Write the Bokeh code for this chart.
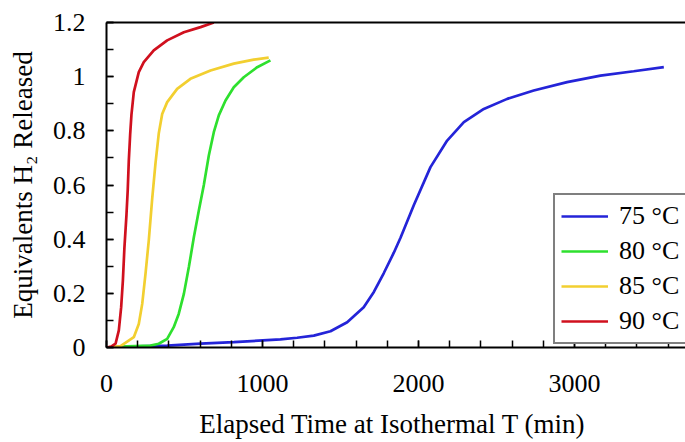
from bokeh.plotting import figure
from bokeh.models import Range1d, FixedTicker, LinearAxis, Legend, LegendItem
from bokeh.embed import file_html
from bokeh.resources import INLINE

# ---------------- data ----------------
t75 = [0, 150, 389, 603, 816, 1115, 1222, 1329, 1436, 1543, 1649, 1714, 1778, 1842,
       1885, 1970, 2077, 2184, 2291, 2419, 2569, 2739, 2953, 3167, 3380, 3573]
v75 = [0, 0.003, 0.007, 0.014, 0.02, 0.03, 0.036, 0.044, 0.06, 0.093, 0.149, 0.205, 0.275, 0.35,
       0.405, 0.525, 0.666, 0.764, 0.832, 0.881, 0.918, 0.949, 0.98, 1.004, 1.02, 1.035]

t80 = [0, 133, 282, 335, 389, 431, 463, 496, 528, 560, 592, 624, 656, 688, 720, 763, 816, 880, 966, 1051]
v80 = [0, 0.004, 0.007, 0.014, 0.032, 0.075, 0.124, 0.198, 0.297, 0.407, 0.506, 0.6, 0.709, 0.795,
       0.857, 0.912, 0.961, 0.998, 1.035, 1.06]

t85 = [0, 90, 175, 207, 229, 250, 271, 293, 314, 335, 357, 389, 453, 538, 667, 816, 944, 1040]
v85 = [0, 0.005, 0.038, 0.087, 0.161, 0.272, 0.395, 0.55, 0.68, 0.79, 0.862, 0.906, 0.955, 0.992,
       1.023, 1.048, 1.063, 1.07]

t90 = [0, 30, 58, 79, 94, 105, 115, 128, 136, 143, 152, 160, 175, 207, 239, 303, 389, 496, 603, 688]
v90 = [0, 0.003, 0.014, 0.063, 0.149, 0.247, 0.37, 0.49, 0.58, 0.69, 0.79, 0.86, 0.943, 1.017,
       1.054, 1.097, 1.134, 1.164, 1.183, 1.2]

series_labels = ["75 °C", "80 °C", "85 °C", "90 °C"]
series_colors = ["#2424d8", "#2ee02e", "#f2cf30", "#d0101e"]

x_ticks = [0, 1000, 2000, 3000]
x_tick_labels = ["0", "1000", "2000", "3000"]
x_minor = [0, 200, 400, 600, 800, 1000, 1200, 1400, 1600, 1800, 2000, 2200, 2400, 2600,
           2800, 3000, 3200, 3400, 3600]
y_ticks = [0, 0.2, 0.4, 0.6, 0.8, 1, 1.2]
y_tick_labels = ["0", "0.2", "0.4", "0.6", "0.8", "1", "1.2"]
y_minor = [0, 0.1, 0.2, 0.3, 0.4, 0.5, 0.6, 0.7, 0.8, 0.9, 1, 1.1, 1.2]

x_title = "Elapsed Time at Isothermal T  (min)"
y_title = "Equivalents H\u2082 Released"

FONT = "Liberation Serif"

# ---------------- figure ----------------
p = figure(width=685, height=442, output_backend="svg", toolbar_location=None,
           x_range=Range1d(0, 3712), y_range=Range1d(0, 1.2),
           min_border_left=106, min_border_top=22, min_border_right=0, min_border_bottom=95)
p.outline_line_color = None
p.grid.visible = False
p.background_fill_color = "white"
p.border_fill_color = "white"

renderers = []
for xs, ys, c in zip([t75, t80, t85, t90], [v75, v80, v85, v90], series_colors):
    r = p.line(xs, ys, line_color=c, line_width=2.7)
    renderers.append(r)

xax = p.xaxis[0]
yax = p.yaxis[0]
xax.ticker = FixedTicker(ticks=x_ticks, minor_ticks=x_minor)
yax.ticker = FixedTicker(ticks=y_ticks, minor_ticks=y_minor)
xax.major_label_overrides = dict(zip(x_ticks, x_tick_labels))
yax.major_label_overrides = dict(zip(y_ticks, y_tick_labels))
xax.axis_label = x_title
yax.axis_label = y_title

for ax in (xax, yax):
    ax.axis_line_width = 2
    ax.axis_line_color = "black"
    ax.major_tick_in = 7
    ax.major_tick_out = 0
    ax.minor_tick_in = 7
    ax.minor_tick_out = 0
    ax.major_tick_line_width = 1.5
    ax.minor_tick_line_width = 1.5
    ax.major_tick_line_color = "black"
    ax.minor_tick_line_color = "black"
    ax.major_label_text_font = FONT
    ax.major_label_text_font_size = "26px"
    ax.major_label_text_color = "black"
    ax.axis_label_text_font = FONT
    ax.axis_label_text_font_size = "27px"
    ax.axis_label_text_font_style = "normal"
    ax.axis_label_text_color = "black"

xax.major_label_standoff = 27
xax.axis_label_standoff = 14
yax.major_label_standoff = 21
yax.axis_label_standoff = 12

top = LinearAxis(ticker=FixedTicker(ticks=[]), axis_line_width=2, axis_line_color="black",
                 major_tick_line_color=None, minor_tick_line_color=None)
p.add_layout(top, "above")

legend = Legend(
    items=[LegendItem(label=lab, renderers=[r]) for lab, r in zip(series_labels, renderers)],
    location=(447, 3),
    label_text_font=FONT, label_text_font_size="26px", label_text_color="black",
    glyph_width=47, glyph_height=30, label_height=30, label_standoff=11,
    spacing=5, padding=6, margin=0,
    border_line_color="black", border_line_width=2,
    background_fill_color="white", background_fill_alpha=1.0,
)
p.add_layout(legend)

open("out.html", "w").write(file_html(p, INLINE))
